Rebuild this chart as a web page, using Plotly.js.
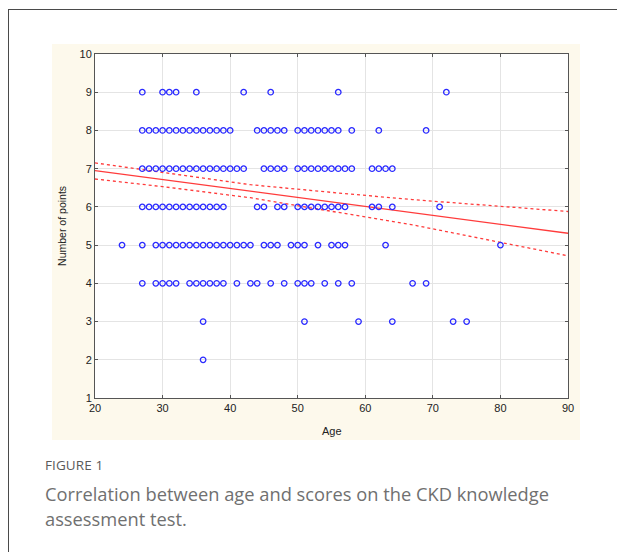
<!DOCTYPE html>
<html>
<head>
<meta charset="utf-8">
<script src="https://cdn.plot.ly/plotly-3.0.1.min.js"></script>
<style>
  html, body { margin: 0; padding: 0; background: #ffffff; }
  #wrap { position: relative; width: 617px; height: 552px; overflow: hidden; }
  #frame { position: absolute; left: 8px; top: 9px; width: 800px; height: 800px;
           border-left: 1.5px solid #4a4a4a; border-top: 1.5px solid #4a4a4a; }
  #panel { position: absolute; left: 52px; top: 44px; width: 528px; height: 396px; background: #fdf9ec; }
  #plot { position: absolute; left: 0; top: 0; width: 617px; height: 552px; }
  #figlabel { position: absolute; left: 45px; top: 456px; font-family: "Open Sans", sans-serif;
              font-size: 13.5px; color: #5a5a5a; letter-spacing: 0.1px; }
  #caption { position: absolute; left: 45px; top: 481px; width: 565px; font-family: "Open Sans", sans-serif;
             font-size: 18.3px; line-height: 25px; color: #707070; }
</style>
</head>
<body>
<div id="wrap">
  <div id="frame"></div>
  <div id="panel"></div>
  <div id="plot"></div>
  <div id="figlabel">FIGURE 1</div>
  <div id="caption">Correlation between age and scores on the CKD knowledge assessment test.</div>
</div>
<script>
// Ages of respondents at each score level
const ages9 = [27, 30, 31, 32, 35, 42, 46, 56, 72];
const ages8 = [27, 28, 29, 30, 31, 32, 33, 34, 35, 36, 37, 38, 39, 40, 44, 45, 46, 47, 48, 50, 51, 52, 53, 54, 55, 56, 58, 62, 69];
const ages7 = [27, 28, 29, 30, 31, 32, 33, 34, 35, 36, 37, 38, 39, 40, 41, 42, 45, 46, 47, 48, 50, 51, 52, 53, 54, 55, 56, 57, 58, 61, 62, 63, 64];
const ages6 = [27, 28, 29, 30, 31, 32, 33, 34, 35, 36, 37, 38, 39, 44, 45, 47, 48, 50, 51, 52, 53, 54, 55, 56, 57, 61, 62, 64, 71];
const ages5 = [24, 27, 29, 30, 31, 32, 33, 34, 35, 36, 37, 38, 39, 40, 41, 42, 43, 45, 46, 47, 49, 50, 51, 53, 55, 56, 57, 63, 80];
const ages4 = [27, 29, 30, 31, 32, 34, 35, 36, 37, 38, 39, 41, 43, 44, 46, 48, 50, 51, 52, 54, 56, 58, 67, 69];
const ages3 = [36, 51, 59, 64, 73, 75];
const ages2 = [36];
const scoreLevels = [9, 8, 7, 6, 5, 4, 3, 2];

// Regression line and confidence band
const fitAge = [20, 90];
const fitScore = [6.95, 5.31];
const bandAge = [20, 30, 43, 55, 67, 90];
const bandUpper = [7.15, 6.90, 6.58, 6.38, 6.19, 5.88];
const bandLower = [6.73, 6.53, 6.24, 5.88, 5.53, 4.72];

// Axis ticks
const xTicks = [20, 30, 40, 50, 60, 70, 80, 90];
const yTicks = [1, 2, 3, 4, 5, 6, 7, 8, 9, 10];

const rows = [ages9, ages8, ages7, ages6, ages5, ages4, ages3, ages2];
const px = [], py = [];
rows.forEach((r, i) => r.forEach(a => { px.push(a); py.push(scoreLevels[i]); }));

const red = '#ff3b3b';
const traces = [
  { x: bandAge, y: bandUpper, mode: 'lines', line: { color: red, width: 1.3, dash: 'dot' }, hoverinfo: 'skip' },
  { x: bandAge, y: bandLower, mode: 'lines', line: { color: red, width: 1.3, dash: 'dot' }, hoverinfo: 'skip' },
  { x: fitAge, y: fitScore, mode: 'lines', line: { color: red, width: 1.3 }, hoverinfo: 'skip' },
  { x: px, y: py, mode: 'markers', type: 'scatter',
    marker: { symbol: 'circle-open', size: 5.5, color: '#2a2aff', line: { width: 1.3, color: '#2a2aff' } } }
];

const tickFont = { family: 'Liberation Sans, Arial, sans-serif', size: 11, color: '#222' };
const axisCommon = {
  showgrid: true, gridcolor: '#e4e4e4', gridwidth: 1,
  showline: true, linecolor: '#555', linewidth: 1, mirror: 'allticks',
  ticks: 'inside', ticklen: 3, tickcolor: '#555', zeroline: false,
  tickfont: tickFont, fixedrange: true
};

const layout = {
  width: 617, height: 552,
  margin: { l: 95, r: 49, t: 54, b: 154, pad: 0 },
  paper_bgcolor: 'rgba(0,0,0,0)',
  plot_bgcolor: '#ffffff',
  showlegend: false,
  xaxis: Object.assign({}, axisCommon, { range: [20, 90], tickvals: xTicks, ticktext: xTicks.map(String) }),
  yaxis: Object.assign({}, axisCommon, { range: [1, 10], tickvals: yTicks, ticktext: yTicks.map(String) }),
  annotations: [
    { text: 'Age', xref: 'paper', yref: 'paper', x: 0.5, y: -0.096, xanchor: 'center', yanchor: 'middle',
      showarrow: false, font: { family: 'Liberation Sans, Arial, sans-serif', size: 11, color: '#222' } },
    { text: 'Number of points', xref: 'paper', yref: 'paper', x: -0.07, y: 0.5, textangle: -90,
      xanchor: 'center', yanchor: 'middle', showarrow: false,
      font: { family: 'Liberation Sans, Arial, sans-serif', size: 10.5, color: '#222' } }
  ]
};

Plotly.newPlot('plot', traces, layout, { staticPlot: true, displayModeBar: false });
</script>
</body>
</html>
